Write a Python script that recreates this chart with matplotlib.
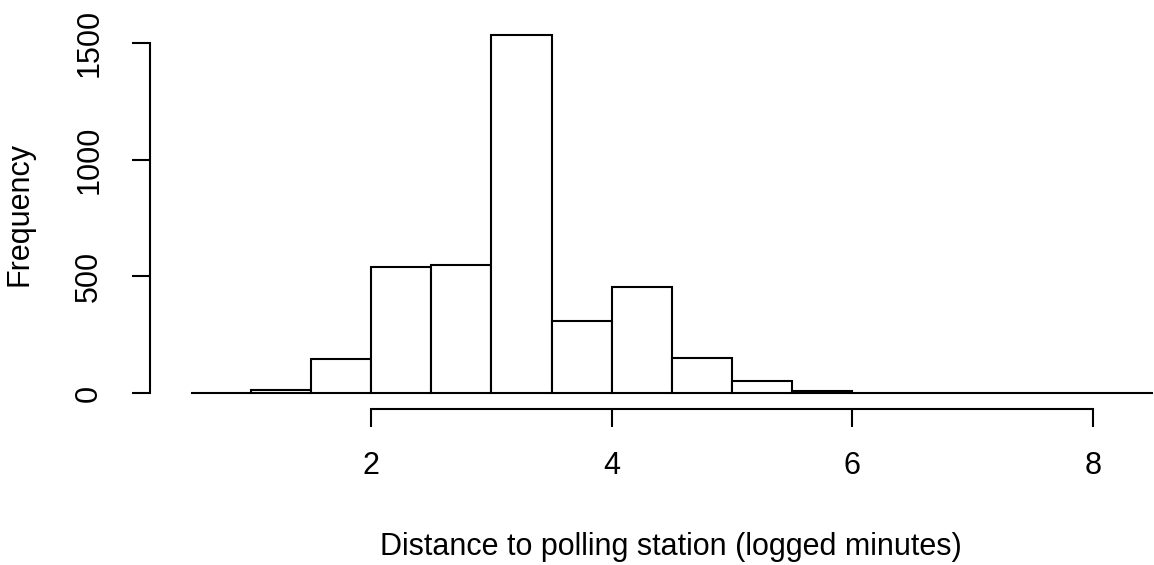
import numpy as np
import matplotlib
matplotlib.use("Agg")
import matplotlib.pyplot as plt

plt.rcParams['font.family'] = ['Liberation Sans', 'DejaVu Sans']

# histogram of logged travel minutes, bins of width 0.5
bin_edges = np.arange(0.5, 8.51, 0.5)
counts = [1, 15, 144, 540, 550, 1536, 310, 454, 151, 50, 9, 0, 0, 0, 0, 1]
x_ticks = [2, 4, 6, 8]
y_ticks = [0, 500, 1000, 1500]

W, H = 1154, 565
fig = plt.figure(figsize=(W / 100, H / 100), dpi=100)
# plot region in pixels: left 150, right 1192 (runs past the edge), top 20, bottom 409
ax = fig.add_axes([150 / W, (H - 409) / H, 1042 / W, 389 / H])
ax.set_xlim(0.163, 8.823)
ax.set_ylim(-68.5, 1599)

lw = 1.5
ax.bar(bin_edges[:-1], counts, width=0.5, align='edge',
       facecolor='white', edgecolor='black', linewidth=lw)

for s in ['top', 'right']:
    ax.spines[s].set_visible(False)
ax.spines['left'].set_bounds(0, 1500)
ax.spines['bottom'].set_bounds(2, 8)
for s in ['left', 'bottom']:
    ax.spines[s].set_linewidth(lw)

ax.set_xticks(x_ticks)
ax.set_yticks(y_ticks)
ax.tick_params(axis='both', length=13, width=lw, labelsize=22)
ax.tick_params(axis='x', pad=17)
ax.tick_params(axis='y', pad=20)
for lab in ax.get_yticklabels():
    lab.set_rotation(90)
    lab.set_va('center')

ax.set_xlabel('Distance to polling station (logged minutes)', fontsize=22)
ax.xaxis.label.set_va('center')
ax.xaxis.set_label_coords(0.5, -0.355)
ax.set_ylabel('Frequency', fontsize=22)
ax.yaxis.label.set_va('center')
ax.yaxis.set_label_coords(-0.1255, 0.5)

fig.savefig('out.png', dpi=100)
